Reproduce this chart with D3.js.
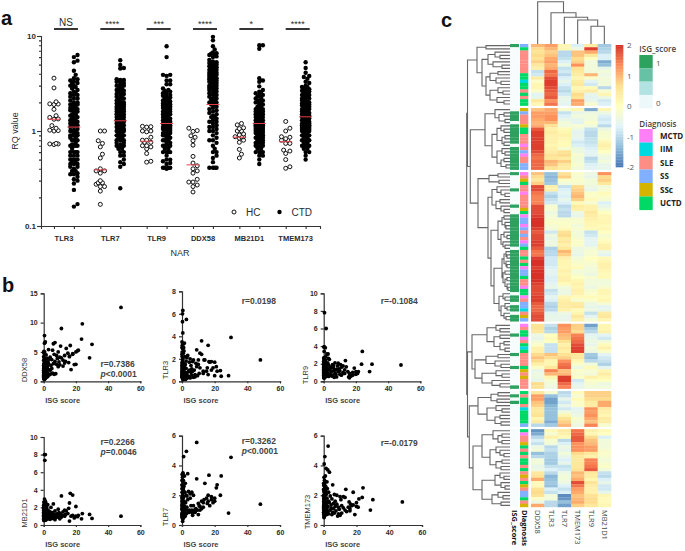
<!DOCTYPE html>
<html>
<head>
<meta charset="utf-8">
<script src="https://cdn.jsdelivr.net/npm/d3@7"></script>
<style>
  body { margin: 0; background: #fff; }
  text { font-family: "Liberation Sans", Arial, sans-serif; fill: #2b2b2b; }
  .heat text { font-family: "Open Sans", sans-serif; }
</style>
</head>
<body>
<div id="chart"></div>
<script>
// Panel a
var genes = ["TLR3", "TLR7", "TLR9", "DDX58", "MB21D1", "TMEM173"];
var sigLabels = ["NS", "****", "***", "****", "*", "****"];
var medianHC = [1.33, 0.39, 0.78, 0.44, 0.86, 0.77];
var medianCTD = [1.1, 1.28, 1.2, 1.9, 1.2, 1.41];

var hcTLR3 = [3.6, 2.84, 2.03, 1.92, 1.9, 1.93, 1.69, 1.45, 1.39, 1.34, 1.33, 1.14, 1.07, 1.01, 1.0, 1.02, 0.74, 0.73, 0.72, 0.73];
var hcTLR7 = [1.0, 1.0, 0.79, 0.74, 0.68, 0.57, 0.52, 0.4, 0.38, 0.38, 0.36, 0.3, 0.285, 0.285, 0.275, 0.26, 0.26, 0.233, 0.169];
var hcTLR9 = [1.11, 1.12, 1.1, 1.0, 1.0, 0.98, 0.86, 0.8, 0.8, 0.76, 0.76, 0.7, 0.7, 0.68, 0.65, 0.58, 0.48, 0.47];
var hcDDX58 = [1.07, 1.01, 0.99, 0.89, 0.86, 0.79, 0.71, 0.54, 0.46, 0.43, 0.4, 0.38, 0.36, 0.31, 0.29, 0.29, 0.27, 0.26, 0.228];
var hcMB21D1 = [1.2, 1.16, 1.08, 1.06, 1.0, 1.0, 0.93, 0.91, 0.87, 0.87, 0.87, 0.84, 0.8, 0.76, 0.64, 0.57, 0.52];
var hcTMEM173 = [1.26, 1.07, 1.0, 0.87, 0.86, 0.83, 0.8, 0.8, 0.74, 0.74, 0.63, 0.615, 0.58, 0.5, 0.42, 0.405];

// CTD patients, same order in every array. Used by panels a and b.
var isgScore = [48, 30, 28.5, 24, 23.5, 21.5, 21, 20, 20, 19,
  18, 18, 17, 16.5, 16, 16, 15.5, 15, 14, 13.5,
  13, 13, 12, 12, 11, 11, 10.5, 10, 10, 9.5,
  9, 9, 8.5, 8, 8, 7.5, 7, 7, 6.5, 6.5,
  6, 6, 5.5, 5.5, 5, 5, 4.5, 4.5, 4, 4,
  3.5, 3.5, 3, 3, 3, 2.7, 2.5, 2.5, 2.5, 2.2,
  2, 2, 2, 1.8, 1.7, 1.5, 1.5, 1.5, 1.3, 1.2,
  1.2, 1.1, 1, 1, 1, 1, .9, .9, .8, .8,
  .7, .7, .7, .6, .6, .6, .5, .5, .5, .5,
  .5, .4, .4, .4, .3, .3, .3, .3, .3, .2,
  .2, .2, .2, .2, .1, .1, .1, .1, .1, .1,
  0, 0, 0, 0, 0, 0, 0, 0, 0, 0];
var ctdDDX58 = [12.6, 6.3, 4.0, 9.8, 7.2, 5.3, 5.2, 2.9, 5.0, 2.85,
  4.7, 4.6, 2.0, 6.1, 4.3, 4.2, 3.2, 4.8, 5.6, 3.4,
  3.1, 4.4, 3.6, 2.6, 9.0, 4.0, 6.0, 2.8, 4.1, 3.3,
  5.0, 2.5, 3.9, 2.9, 4.4, 1.3, 6.6, 3.4, 1.2, 4.6,
  6.4, 3.0, 1.4, 5.3, 2.2, 3.7, 1.25, 2.7, 4.1, 1.9,
  3.8, 1.1, 5.4, 3.0, 2.0, 3.3, 1.4, 2.6, .8, 3.9,
  2.4, 1.0, 3.1, 1.7, .7, 4.5, 2.3, .95, 3.5, 1.6,
  .6, 2.1, 6.7, 1.05, .52, 2.8, 1.5, 3.2, .47, 1.8,
  2.4, .6, 3.7, .41, 2.0, 5.0, 7.8, 6.5, .41, 1.15,
  2.9, .85, 1.35, 4.0, .41, 1.25, 2.5, 3.5, .75, .41,
  1.65, 2.2, 4.8, .9, 1.1, 3.0, 1.55, .65, 2.3, 5.1,
  .55, 1.75, 2.7, 1.0, 3.6, 1.45, .8, 2.15, 4.2, 1.9];
var ctdTLR3 = [1.9, 3.9, .5, .45, .95, .9, 1.3, .5, 1.7, 1.2,
  1.75, 1.0, 1.7, 1.75, .6, 3.2, 1.2, .9, 1.9, 1.9,
  .7, .9, 3.6, 2.4, 2.5, 1.2, .7, 1.9, 1.5, .5,
  2.8, 1.3, 1.6, .6, .4, 1.0, 1.9, .35, 1.75, .9,
  1.1, .55, 1.4, .8, 2.0, .3, 1.0, 1.7, .45, .9,
  2.3, .35, 2.1, .7, .28, 5.5, 1.8, .55, 1.15, .17,
  1.5, .45, .8, 2.2, .38, 1.25, .42, 3.4, .65, 2.7,
  .5, 1.05, .9, 3.0, .33, 1.6, .24, 1.35, .7, 2.5,
  .38, 1.1, .85, .6, 2.0, 3.3, 4.3, 6.3, .16, .75,
  1.7, .48, 2.9, 1.2, 6.0, .5, 1.9, .8, 5.3, .31,
  1.0, 3.2, .6, 1.4, .36, 2.2, 1.15, 2.6, .72, 1.3,
  .42, 3.5, .95, 1.65, .46, 2.4, .55, 1.45, .85, 3.0];
var ctdTLR7 = [1.4, 4.55, .8, 3.3, 2.0, 2.7, 2.5, 1.8, 1.6, 1.5,
  1.7, 1.9, 1.3, 3.35, 2.0, 1.6, 1.45, 1.8, 2.8, 1.7,
  1.5, 1.2, 1.6, 1.1, 1.25, 1.0, 1.3, .7, 1.45, 1.0,
  5.55, 3.1, 1.1, .85, .9, 1.0, 1.3, 2.0, .8, .65,
  2.2, 1.0, .95, 1.3, 1.8, 2.1, .85, 1.0, .9, 2.25,
  3.45, 1.7, 1.2, 1.95, .8, 4.95, 2.0, 1.05, .75, 1.5,
  2.8, 1.15, .6, 2.2, .9, 3.3, 1.25, .7, 1.6, 2.6,
  .55, 1.1, 4.6, 1.9, .5, 1.35, .85, 2.3, .65, 3.0,
  1.4, .75, 2.45, .45, 1.8, 3.5, 2.9, 2.4, .42, 1.0,
  3.45, .25, 2.1, 1.55, .7, 1.25, 1.95, 3.2, .95, .47,
  1.45, .68, 2.65, 1.15, .6, 2.2, 1.75, 1.05, 3.4, 1.3,
  .8, 2.45, .55, 1.6, 1.1, 2.7, .72, 1.85, 3.0, 1.35];
var ctdTLR9 = [1.85, 1.95, 1.1, 3.4, 1.95, 1.1, .9, .8, 1.1, 1.5,
  1.0, .7, .6, .7, .4, .9, .5, 1.1, 1.65, 2.35,
  1.3, .9, 1.75, 1.0, 1.6, .7, 1.9, .8, 1.2, 1.4,
  2.05, 1.1, 1.75, .5, 1.35, .8, 2.1, .95, 1.25, .45,
  1.8, 1.55, .7, 1.9, 1.15, .6, 1.65, 1.05, 1.45, .75,
  2.5, 1.3, .55, 1.85, 2.6, 3.1, .95, 1.4, 2.1, .7,
  1.5, 3.1, 1.2, .65, 1.75, 6.0, 1.0, 1.9, 2.8, .85,
  1.35, 2.4, 3.8, 1.1, .6, 1.55, .48, 2.2, 1.7, 1.25,
  .75, 2.3, 1.05, .9, 2.7, 1.3, 7.8, 3.9, .46, .41,
  1.65, 1.15, 2.0, .65, 3.4, .8, 2.5, 1.45, .41, 1.0,
  2.15, 1.25, .41, 1.85, .7, 1.1, .41, 1.6, 3.9, 1.95,
  1.05, .85, 1.5, 2.65, 1.2, .6, 2.25, 1.35, .95, 1.75];
var ctdMB21D1 = [1.0, .75, 1.2, 1.3, .7, 1.1, .95, 2.1, 1.0, .8,
  3.4, 1.1, 1.0, 3.6, .45, 2.5, 1.9, 1.3, 1.6, 1.2,
  1.7, 1.0, 1.5, 1.1, 3.3, .9, 1.3, 1.2, .7, 1.4,
  1.0, 1.8, .9, 1.15, 1.25, .85, 1.6, .6, 1.2, 1.05,
  2.4, .95, 1.4, .75, 1.3, 1.1, 2.0, .8, .65, 1.5,
  1.05, .85, 1.5, 1.2, .7, 1.7, 1.05, 2.3, .9, 1.35,
  1.6, .75, 1.1, 2.0, .95, 1.25, 1.7, .6, 2.5, 1.15,
  .8, .55, 8.0, 1.0, 1.3, 2.7, .9, 1.45, .75, 2.1,
  7.35, 1.15, 1.55, .65, 1.25, 1.9, 2.95, 8.0, .95, 1.6,
  2.4, .85, 2.2, .6, 1.1, .5, 1.7, 1.2, 1.4, 1.0,
  .7, 2.05, 1.35, .55, 2.6, .85, 1.5, .8, 1.1, 1.8,
  .6, 1.05, 2.25, .95, 1.3, 1.65, .72, 1.45, 1.15, 2.0];
var ctdTMEM173 = [1.55, 1.7, 1.0, 2.5, 1.85, 1.75, 1.2, 1.25, 1.5, .7,
  2.2, 1.35, 1.3, 1.4, 1.1, .95, 1.55, 1.2, .9, 2.4,
  1.85, 1.0, 1.9, 1.15, .8, 1.3, 1.7, .65, 1.9, 1.05,
  .75, 1.2, .6, 1.4, 2.0, .95, 1.6, 1.25, .8, 2.05,
  1.45, 1.1, 2.7, .85, .7, 1.75, 1.15, 1.35, 1.95, 1.0,
  3.55, 1.5, 2.2, .75, 1.6, 5.3, 3.7, 1.25, .9, 2.45,
  1.8, 1.1, 2.9, .7, 1.45, 3.8, 1.05, 2.05, 1.3, 2.6,
  .85, 2.3, 2.9, 1.2, 3.3, 1.55, 1.0, 2.1, 1.65, 1.15,
  4.6, .65, 2.5, 1.35, .95, 1.9, 3.0, 1.7, .8, 1.1,
  2.75, .6, 1.4, 2.2, 4.1, .55, 1.3, 2.35, .9, .5,
  3.2, 1.05, 1.85, .75, 2.65, 1.2, 1.5, .7, 2.3, 1.6,
  2.4, 1.0, 1.75, .85, 2.0, 1.25, 1.35, 1.9, 2.8, 1.1];

// Panel b annotations
var corrLabels = ["r=0.7386", "r=0.0198", "r=-0.1084", "r=0.2266", "r=0.3262", "r=-0.0179"];
var pLabels = ["<0.0001", "", "", "=0.0046", "<0.0001", ""];

// Panel c, one array per row cluster, columns in heatGenes order
var heatGenes = ["DDX58", "TLR3", "TLR7", "TMEM173", "TLR9", "MB21D1"];
var heatBlock1 = [[1, 1.2, .2, -.7, .4, -1.2], [.7, 1, .2, -.4, 1.9, -1.1], [.6, .8, -1, .9, 1.1, -1], [.7, .9, -1, .9, .5, -.7],
  [.6, 1.1, -.9, .7, 0, -.7], [.8, 1.2, -.7, .8, -.3, -1.5], [.5, 1, -.4, 1.3, -.3, -1.3], [.3, 1.1, -.9, .6, -.3, -.5],
  [-.9, 1.6, -.8, .5, -.3, -.3], [-.8, 1.5, -1, .4, 1, -.4], [.4, 1.8, -.7, .2, -.1, -.3], [-.1, 1.9, -.5, .4, -.6, -.3],
  [.2, 1.9, -.7, .5, -.8, -.3], [.2, 1.8, -.9, .2, .1, -1], [-.1, 1.7, -1, .3, .4, -.2], [-.6, 1.6, -.8, .7, -.5, .2],
  [-.5, 1.7, -.5, .6, -.6, -.4], [.5, 1.3, -.5, 1.2, -.5, -.8], [.2, 1.5, -.6, 1.1, -.2, -.7]];
var heatBlock2 = [[.9, 1.1, -.2, .2, -1.5, .2], [1.2, 1.2, -.9, -.5, -.4, -.4], [1.2, 1.3, -.7, -.3, -.3, -.7], [1.1, 1.3, -.5, -.5, -.3, -.8],
  [1, 1, -.3, -.6, -.1, -.7], [1.1, .6, -.3, -.2, -.3, -1], [1.7, .3, .1, -.4, -.9, -.4], [1.9, .4, .2, -.6, -1, -.2],
  [1.9, .3, .3, -.5, -1, -.2], [1.9, .3, .2, -.6, -.9, -.1], [1.9, .3, .1, -.8, -.9, .2], [1.9, .2, .1, -.7, -.8, .3],
  [1.9, .3, -.2, -.4, -.7, .2], [1.8, .4, .6, -.4, -.6, 0], [1.6, .6, .7, -.2, -.6, -.3], [1.5, .5, .4, -.3, -1, -.4],
  [1.6, 1, .8, -.3, -.9, -.3], [1.6, .9, .5, -.2, -.7, -.5], [1.6, .6, .4, -.3, -.6, -.5]];
var heatBlock3 = [[.9, -1.3, .6, -.1, -.4, 1.3], [.7, -1.4, .8, -.2, -.5, .7], [.5, -1.3, -.1, -.1, -.3, .8], [.8, -1.2, -.3, -.2, -.3, .5],
  [1.8, .3, -.9, .7, -.4, -.3], [1.8, .3, -.7, .8, -.5, -.2], [1.5, -.9, -.6, .9, -.1, .1], [1.4, -1.1, -.7, 1, -.1, -.1],
  [1.4, -.9, -.5, .8, .1, -.2], [1.4, -.8, -.7, .1, -.2, -.7], [1.8, -.2, -1, .4, .3, -.5], [1.8, -.2, -.9, .3, .3, -.3],
  [1.8, -.4, -1, -.4, .5, 0], [1.9, -.3, -1, -.5, .4, .2], [2, -.2, -.2, -.2, .3, .2], [2, -.1, -.1, -.2, .2, .2],
  [2, -.2, -.1, -.3, .2, .1], [1.9, -.3, .1, -.2, .1, .2], [1.7, -.8, .6, -.3, -.9, 0], [1.8, -.4, .7, -.3, -.8, -.2],
  [1.8, -.5, .4, -.2, -.6, -.1], [1.9, -.4, .5, -.1, -.6, .1], [1.9, -.4, .3, -.1, -.6, .3], [1.7, -1.1, .5, -.4, -.3, .3],
  [1.5, -1, 1, -.4, -.2, -.4], [1.5, -1, .8, -.5, -.2, -.6], [1.9, -.8, .3, -.3, 0, .1], [2, -.8, .2, -.2, -.1, .2],
  [2, -.8, .2, -.1, -.2, .3], [1.9, -.7, .2, .1, -.3, .3], [2, -.6, .3, -.3, -.3, .2], [2, -.6, .2, -.2, -.4, .1],
  [2, -.7, .3, 0, -.2, .1], [2, -.7, .3, .2, -.3, -.3], [1.9, -.6, .1, .3, -.3, -.3], [1.8, -.5, -.3, .2, -.4, -.2],
  [1.8, -.9, -.4, .3, -.2, .2], [1.8, -.8, -.4, .3, -.1, .2], [1.9, -.6, .2, .1, .1, .1], [1.9, -.7, .3, -.2, -.1, .2],
  [1.7, -1, .4, .4, -.4, -.2], [1.6, -1.1, .4, .5, -.5, -.6], [1.6, -1, .3, .1, -.4, -.5], [1.7, -.6, -.4, .2, -.9, .4],
  [1.8, -.5, -.5, .5, -.6, .5], [1.8, -.5, -.5, .3, -.3, .2]];
var heatBlock4 = [[.6, -.9, 1.3, .8, -1.6, .2], [.6, -1.1, 1.2, .8, -1.2, .2], [.5, -1, 1.2, .7, -1, .3], [-.4, 0, 1, 1.4, -.6, -.6],
  [-.5, .1, .9, 1.5, -.5, -.8], [-.3, 0, .6, 1.6, -.4, -.3], [-.1, -.9, .3, 1.8, -.5, .1], [.3, -.9, .5, 1.9, -.3, .3],
  [.3, -.9, .3, 1.9, -.4, -.1], [.7, .9, .6, .5, -1.2, -.6], [.9, .7, .8, .5, -1.3, -.8], [.7, .2, 1.3, .2, -1, -.9],
  [.3, .2, 1.5, -.1, -.3, -1.1], [-.1, .5, 1.6, -.4, .1, -.6], [-.5, 1.4, .9, -.1, -.2, .2], [-.4, 1, 1, -.2, -.3, .4],
  [-.4, .2, 1.9, -.1, .3, .2], [-.5, -.2, 1.9, -.8, -.1, 0], [.7, -.3, 1.6, -.6, -.2, -.4], [.6, -.4, 1.4, -.5, -.3, -.3]];
var heatBlock5 = [[.5, -.2, -1, .1, .8, .8], [1.2, -1.3, -.9, -.2, .8, .8], [1.2, -1.6, -.5, .1, .7, .7], [.9, -1.6, -.8, -.1, .4, 1.1],
  [.8, -1.4, -.5, -.1, .4, 1.1], [.5, -1.3, -.8, -.6, 1.3, .4], [.5, -1.3, -.3, -.5, 1.2, .3], [.6, -1.3, .2, -.4, 1.3, .2],
  [.2, -1.3, .6, -.2, 1.1, .4], [.4, -1.5, .8, -.3, .9, .4], [-1, -1.2, 1, -.4, 1.4, -.2]];
var heatBlock6 = [[-1.7, .1, .4, 1.5, .3, .1], [-1.5, -.2, .3, 1.6, .2, 0], [-1, .3, .1, 1.7, .7, -.7], [-.7, -.2, -1, 1.7, .9, -.3],
  [-.9, -.3, -.7, 1.3, 1, -.3], [-.4, -1, -.4, 1.3, 1.2, -.3], [-.3, -.9, -.5, 1.3, 1.2, -.2], [-1.3, -1.1, -.3, .7, .5, -.1],
  [-1, -1.1, -.5, .5, .3, -.2], [-.3, -1.2, -.7, .5, 1.4, -.3], [-.3, -1.2, -.5, .5, 1.4, -.2], [-.5, -.9, -.9, .5, 1.5, -.1],
  [-.4, -.7, -.8, .6, 1.7, -.3], [.5, -1, -.4, 1, .5, -.9], [.6, -1.4, -.3, .9, .4, -1], [1.1, -1.3, -.3, 1.1, .2, -.7],
  [.1, -1.2, -.4, 1.8, .6, -.5], [.1, -1.3, -.7, 1.5, .4, -.8], [.6, -.7, -.9, 1.2, .3, -.8], [.7, -.9, -.7, 1.1, .3, -.5],
  [.6, -.3, -1.8, .9, .6, .2], [-.1, -.3, -1.7, 1, .7, .1], [-.4, -1, -1.3, 1.1, .7, .1], [1.1, -1, -1.6, .8, .5, .2]];

// Diagnosis of every row, as an index into diagnosisNames
var diagnosisNames = ["MCTD", "IIM", "SLE", "SS", "SSc", "UCTD"];
var diagnosisColors = ["#ff80f6", "#00d9e0", "#fd8d85", "#80b0ff", "#d4b400", "#00d966"];
var diagRows = [3, 5, 2, 2, 2, 2, 2, 2, 2, 5, 5, 1, 5, 5, 2, 5, 2, 5, 5,
  4, 3, 2, 2, 2, 4, 5, 5, 2, 2, 2, 0, 2, 3, 0, 2, 2, 3, 3,
  0, 2, 4, 5, 2, 2, 0, 2, 2, 2, 2, 4, 5, 0, 3, 3, 0, 3, 2, 3, 2, 0, 3, 5, 2, 2, 5, 2, 5, 0, 3, 3, 5, 2, 2, 0, 5, 5, 0, 2, 3, 3, 1, 2, 4, 3,
  0, 2, 5, 5, 0, 2, 5, 1, 5, 2, 2, 2, 2, 5, 4, 2, 4, 2, 2, 2,
  5, 2, 5, 5, 2, 1, 5, 5, 5, 5, 3,
  5, 0, 2, 2, 4, 5, 2, 5, 2, 5, 5, 2, 5, 2, 4, 2, 5, 4, 2, 3, 3, 5, 2, 4];

// ISG_score level of every row, 3 is the darkest green
var isgColors = ["#edf8fb", "#b2e2e2", "#66c2a4", "#2ca25f"];
var isgRows = [3, 0, 0, 0, 0, 0, 0, 0, 0, 0, 0, 0, 0, 0, 0, 0, 0, 0, 0,
  0, 3, 3, 3, 0, 3, 3, 3, 3, 3, 3, 0, 3, 3, 3, 3, 3, 3, 3,
  3, 0, 0, 0, 0, 3, 0, 0, 0, 0, 3, 0, 0, 3, 3, 3, 3, 3, 3, 3, 3, 3, 3, 0, 3, 3, 3, 3, 3, 3, 3, 3, 3, 3, 3, 3, 3, 0, 3, 3, 0, 3, 3, 0, 3, 3,
  0, 0, 0, 3, 0, 0, 0, 0, 0, 3, 0, 0, 0, 3, 0, 0, 0, 0, 0, 3,
  0, 3, 0, 3, 0, 0, 0, 0, 0, 0, 0,
  0, 0, 0, 0, 0, 0, 0, 0, 0, 0, 0, 0, 0, 0, 0, 0, 0, 0, 0, 0, 0, 0, 0, 0];

// Dendrograms: [height, child, child], 0 is a leaf
var treeBlock1 = [33, [24, 0, 0], [28, [22, [15, 0, [10, 0, 0]], [17, 0, [8, 0, 0]]], [24, [20, [12, 0, 0], [14, 0, [9, 0, 0]]], [20, [12, 0, [7, 0, 0]], [13, 0, [6, 0, 0]]]]]];
var treeBlock2 = [25, [15, 0, [11, [6, 0, 0], [5, 0, 0]]], [18, [13, [9, 0, [6, 0, 0]], [8, [5, 0, 0], [6, 0, 0]]], [13, [8, 0, [5, 0, 0]], [9, [6, 0, 0], [4, 0, 0]]]]];
var treeBlock3 = [32, [21, [12, 0, 0], [11, 0, 0]], [22, [18, [13, 0, [9, 0, [5, 0, 0]]], [14, [10, 0, 0], [9, 0, [6, 0, 0]]]],
  [19, [12, [8, [6, 0, 0], [5, 0, [4, 0, 0]]], [9, [6, 0, [3, 0, 0]], [7, 0, [5, 0, 0]]]],
    [16, [8, [6, [4, 0, [3, 0, 0]], [4, 0, [3, 0, 0]]], [7, [5, 0, 0], [5, [3, 0, 0], [3, 0, [2, 0, 0]]]]],
      [11, [7, 0, [5, 0, 0]], [9, [5, 0, [3, 0, 0]], [6, 0, [4, 0, 0]]]]]]]];
var treeBlock4 = [38, [23, [14, 0, [10, 0, 0]], [16, [10, 0, 0], [10, [6, 0, 0], [5, 0, 0]]]],
  [35, [24, [12, 0, 0], [15, 0, [9, 0, 0]]], [28, [14, 0, [8, 0, 0]], [18, 0, [10, 0, 0]]]]];
var treeBlock5 = [32, [19, [12, 0, 0], [13, 0, 0]], [23, [14, 0, [8, 0, 0]], [15, [10, 0, 0], [9, 0, 0]]]];
var treeBlock6 = [37, [28, [17, 0, [12, [8, 0, 0], [8, 0, 0]]], [20, [14, 0, [10, 0, [6, 0, 0]]], [14, [8, 0, 0], [9, 0, 0]]]],
  [28, [15, [10, 0, [6, 0, 0]], [9, 0, [5, 0, 0]]], [18, [12, 0, [7, 0, 0]], [9, 0, 0]]]];
var rowTree = [43.3, [42.5, treeBlock1, [39.7, treeBlock2, treeBlock3]], [42.5, treeBlock4, [40.7, treeBlock5, treeBlock6]]];
var colTree = [42.3, 0, [31.3, 0, [26.7, 0, [24, 0, [17.7, 0, 0]]]]];

var main = function () {
    "use strict";

    var svg = d3.select("#chart").append("svg")
        .attr("width", 685)
        .attr("height", 551)
        .style("display", "block");

    drawPanelA(svg);
    drawPanelB(svg);
    drawPanelC(svg);

    // Panel letters
    [["a", 1, 25], ["b", 2, 292], ["c", 441, 27]].forEach(function (d) {
        svg.append("text").attr("x", d[1]).attr("y", d[2])
            .attr("font-size", 20).attr("font-weight", "bold")
            .style("fill", "#111").text(d[0]);
    });
};

// Beeswarm offsets. Each point goes to the nearest free slot, or the least crowded one.
function swarm(values, y, step, minDist, maxK) {
    var placed = [];
    values.slice().sort(d3.ascending).forEach(function (v) {
        var py = y(v), best = null, bestDist = -1;
        for (var i = 0; i <= maxK * 2; i++) {
            var k = i % 2 ? (i + 1) / 2 : -i / 2;
            var off = k * step;
            var nearest = d3.min(placed, function (p) { return Math.hypot(p.off - off, p.py - py); });
            if (nearest === undefined) nearest = 1e9;
            if (nearest >= minDist) { best = off; bestDist = nearest; break; }
            if (nearest > bestDist) { best = off; bestDist = nearest; }
        }
        placed.push({value: v, off: best, py: py});
    });
    return placed;
}

function drawPanelA(svg) {
    var y = d3.scaleLog().domain([0.1, 10]).range([226, 36]);
    var x = d3.scaleLinear().domain([-0.28, 5.74]).range([41, 320]);
    var ctdShift = 0.43;

    var minor = [];
    [0.1, 1].forEach(function (dec) {
        for (var i = 1; i < 10; i++) minor.push(+(dec * i).toFixed(1));
    });
    minor.push(10);
    var isDecade = function (d) { return d === 0.1 || d === 1 || d === 10; };

    // Y axis with long ticks on the decades only
    var yAxis = svg.append("g").attr("transform", "translate(41,0)")
        .call(d3.axisLeft(y).tickValues(minor).tickSize(2)
            .tickFormat(function (d) { return isDecade(d) ? String(d) : ""; }));
    yAxis.selectAll(".tick").filter(isDecade).select("line").attr("x2", -4);
    yAxis.selectAll("text").attr("x", -5).attr("font-size", 8).attr("font-weight", "bold")
        .attr("font-family", "Liberation Sans");

    var ticks = [];
    genes.forEach(function (g, i) { ticks.push(i, i + ctdShift); });
    var xAxis = svg.append("g").attr("transform", "translate(0,226)")
        .call(d3.axisBottom(x).tickValues(ticks).tickSize(3).tickFormat(""));
    [yAxis, xAxis].forEach(function (a) {
        a.selectAll(".domain, line").attr("stroke", "#333").attr("stroke-width", 1.1);
    });

    var hcValues = [hcTLR3, hcTLR7, hcTLR9, hcDDX58, hcMB21D1, hcTMEM173];
    var ctdValues = [ctdTLR3, ctdTLR7, ctdTLR9, ctdDDX58, ctdMB21D1, ctdTMEM173];

    genes.forEach(function (gene, i) {
        var cxHC = x(i), cxCTD = x(i + ctdShift);

        svg.append("g").selectAll("circle")
            .data(swarm(hcValues[i], y, 2.1, 4, 2))
            .enter().append("circle")
            .attr("cx", function (d) { return cxHC + d.off; })
            .attr("cy", function (d) { return y(d.value); })
            .attr("r", 2)
            .attr("fill", "#fff")
            .attr("stroke", "#111")
            .attr("stroke-width", 1);

        svg.append("g").selectAll("circle")
            .data(swarm(ctdValues[i].filter(function (v) { return v <= 10; }), y, 1.8, 3.4, 2))
            .enter().append("circle")
            .attr("cx", function (d) { return cxCTD + d.off; })
            .attr("cy", function (d) { return y(d.value); })
            .attr("r", 2.2)
            .attr("fill", "#000");

        // Medians
        [[cxHC, medianHC[i]], [cxCTD, medianCTD[i]]].forEach(function (m) {
            svg.append("line")
                .attr("x1", m[0] - 6.5).attr("x2", m[0] + 6.5)
                .attr("y1", y(m[1])).attr("y2", y(m[1]))
                .attr("stroke", "#e8404a").attr("stroke-width", 1);
        });

        // Significance bar, stars and gene name
        svg.append("line")
            .attr("x1", cxHC).attr("x2", cxHC + 24)
            .attr("y1", 29).attr("y2", 29)
            .attr("stroke", "#111").attr("stroke-width", 1.7);
        svg.append("text")
            .attr("x", cxHC + 12).attr("y", sigLabels[i] === "NS" ? 26 : 27)
            .attr("text-anchor", "middle")
            .attr("font-size", sigLabels[i] === "NS" ? 10 : 9)
            .text(sigLabels[i]);
        svg.append("text")
            .attr("x", (cxHC + cxCTD) / 2).attr("y", 241)
            .attr("text-anchor", "middle")
            .attr("font-size", 7.5).attr("font-weight", "bold")
            .text(gene);
    });

    svg.append("text").attr("transform", "translate(18,131) rotate(-90)")
        .attr("text-anchor", "middle").attr("font-size", 9).text("RQ value");
    svg.append("text").attr("x", 180).attr("y", 256)
        .attr("text-anchor", "middle").attr("font-size", 9).text("NAR");

    // Legend
    svg.append("circle").attr("cx", 234).attr("cy", 212).attr("r", 2)
        .attr("fill", "#fff").attr("stroke", "#111");
    svg.append("text").attr("x", 246).attr("y", 216).attr("font-size", 10).text("HC");
    svg.append("circle").attr("cx", 279.5).attr("cy", 212).attr("r", 2.2).attr("fill", "#000");
    svg.append("text").attr("x", 291.5).attr("y", 216).attr("font-size", 10).text("CTD");
}

function drawPanelB(svg) {
    // Layout of the six small plots
    var plots = [
        {name: "DDX58", values: ctdDDX58, max: 15, ticks: [0, 5, 10, 15], x0: 43.7, x1: 140.3, y0: 381.3, y1: 293.3, ly: 370, ty: 367},
        {name: "TLR3", values: ctdTLR3, max: 8, ticks: [0, 2, 4, 6, 8], x0: 182, x1: 280, y0: 381.3, y1: 291.3, ly: 370, ty: 304},
        {name: "TLR9", values: ctdTLR9, max: 10, ticks: [0, 2, 4, 6, 8, 10], x0: 323.7, x1: 420.3, y0: 381.3, y1: 293.3, ly: 375, ty: 304},
        {name: "MB21D1", values: ctdMB21D1, max: 10, ticks: [0, 2, 4, 6, 8, 10], x0: 43.7, x1: 140.3, y0: 525, y1: 437, ly: 513, ty: 445},
        {name: "TLR7", values: ctdTLR7, max: 6, ticks: [0, 2, 4, 6], x0: 182, x1: 280, y0: 525, y1: 435.7, ly: 517, ty: 444},
        {name: "TMEM173", values: ctdTMEM173, max: 6, ticks: [0, 2, 4, 6], x0: 323.7, x1: 422, y0: 525, y1: 435.7, ly: 512, ty: 446}
    ];
    var labelX = [100.5, 241.7, 380.7, 100.5, 241.7, 380.7];
    var nameX = [27, 168, 307.5, 27, 168, 310];

    plots.forEach(function (p, i) {
        var x = d3.scaleLinear().domain([0, 60]).range([p.x0, p.x1]);
        var y = d3.scaleLinear().domain([0, p.max]).range([p.y0, p.y1]);
        var g = svg.append("g");

        var xAx = g.append("g").attr("transform", "translate(0," + p.y0 + ")")
            .call(d3.axisBottom(x).tickValues([0, 20, 40, 60]).tickSize(2));
        var yAx = g.append("g").attr("transform", "translate(" + p.x0 + ",0)")
            .call(d3.axisLeft(y).tickValues(p.ticks).tickSize(3).tickFormat(d3.format("d")));
        [xAx, yAx].forEach(function (a) {
            a.selectAll(".domain, line").attr("stroke", "#333").attr("stroke-width", 1.2);
            a.selectAll("text").attr("font-size", 7).attr("font-weight", "bold")
                .attr("font-family", "Liberation Sans");
        });

        g.append("g").selectAll("circle")
            .data(isgScore)
            .enter().append("circle")
            .attr("cx", function (d) { return x(d); })
            .attr("cy", function (d, j) { return y(p.values[j]); })
            .attr("r", 1.9)
            .attr("fill", "#000");

        g.append("text").attr("x", (p.x0 + 19)).attr("y", p.y0 + 21.5)
            .attr("text-anchor", "middle").attr("font-size", 7.5).attr("font-weight", "bold")
            .style("fill", "#444").text("ISG score");
        g.append("text").attr("transform", "translate(" + nameX[i] + "," + p.ly + ") rotate(-90)")
            .attr("text-anchor", "middle").attr("font-size", 7.5).style("fill", "#333").text(p.name);

        g.append("text").attr("x", labelX[i]).attr("y", p.ty)
            .attr("font-size", 8.5).attr("font-weight", "bold").style("fill", "#444")
            .text(corrLabels[i]);
        if (pLabels[i]) {
            var t = g.append("text").attr("x", labelX[i]).attr("y", p.ty + 10)
                .attr("font-size", 8.5).attr("font-weight", "bold").style("fill", "#444");
            t.append("tspan").attr("font-style", "italic").text("p");
            t.append("tspan").text(pLabels[i]);
        }
    });
}

function drawPanelC(svg) {
    var g = svg.append("g").attr("class", "heat");
    var blocks = [heatBlock1, heatBlock2, heatBlock3, heatBlock4, heatBlock5, heatBlock6];
    var gap = 2.4;

    var rows = [];
    blocks.forEach(function (b, bi) {
        b.forEach(function (r) { rows.push({values: r, block: bi}); });
    });

    var rowScale = d3.scaleBand().domain(d3.range(rows.length)).range([44, 507 - gap * (blocks.length - 1)]);
    var colScale = d3.scaleBand().domain(heatGenes).range([531, 611]);
    var rowY = function (i) { return rowScale(i) + gap * rows[i].block; };

    // pheatmap style colours
    var color = d3.scaleLinear()
        .domain([-2, -1.33, -0.67, 0, 0.67, 1.33, 2])
        .range(["#4575b4", "#91bfdb", "#e0f3f8", "#ffffbf", "#fee090", "#fc8d59", "#d73027"]);

    rows.forEach(function (row, i) {
        g.append("g").selectAll("rect")
            .data(row.values)
            .enter().append("rect")
            .attr("x", function (d, j) { return colScale(heatGenes[j]); })
            .attr("y", rowY(i))
            .attr("width", colScale.bandwidth() + 0.3)
            .attr("height", rowScale.bandwidth() + 0.2)
            .attr("fill", function (d) { return color(d); });
        g.append("rect").attr("x", 510).attr("y", rowY(i)).attr("width", 9)
            .attr("height", rowScale.bandwidth() + 0.2).attr("fill", isgRows[i] ? isgColors[isgRows[i]] : "#f6fcfc");
        g.append("rect").attr("x", 520).attr("y", rowY(i)).attr("width", 8.3)
            .attr("height", rowScale.bandwidth() + 0.2).attr("fill", diagnosisColors[diagRows[i]]);
    });

    // Row dendrogram, leaves follow the heatmap rows
    var rootR = d3.hierarchy(rowTree, function (d) { return Array.isArray(d) ? d.slice(1) : null; });
    var hx = d3.scaleLinear().domain([0, 43.3]).range([510, 466.7]);
    var leafR = 0;
    rootR.eachAfter(function (n) {
        n.h = Array.isArray(n.data) ? n.data[0] : 0;
        n.pos = n.children ? (n.children[0].pos + n.children[1].pos) / 2
            : rowY(leafR++) + rowScale.bandwidth() / 2;
    });
    var treePath = d3.path();
    rootR.each(function (n) {
        if (!n.children) return;
        var a = n.children[0], b = n.children[1];
        treePath.moveTo(hx(a.h), a.pos);
        treePath.lineTo(hx(n.h), a.pos);
        treePath.lineTo(hx(n.h), b.pos);
        treePath.lineTo(hx(b.h), b.pos);
    });
    g.append("path").attr("d", treePath.toString())
        .attr("fill", "none").attr("stroke", "#666").attr("stroke-width", 1.1);

    // Column dendrogram
    var rootC = d3.hierarchy(colTree, function (d) { return Array.isArray(d) ? d.slice(1) : null; });
    var vy = d3.scaleLinear().domain([0, 42.3]).range([44, 1.7]);
    var leafC = 0;
    rootC.eachAfter(function (n) {
        n.h = Array.isArray(n.data) ? n.data[0] : 0;
        n.pos = n.children ? (n.children[0].pos + n.children[1].pos) / 2
            : colScale(heatGenes[leafC++]) + colScale.bandwidth() / 2;
    });
    var colPath = d3.path();
    rootC.each(function (n) {
        if (!n.children) return;
        var a = n.children[0], b = n.children[1];
        colPath.moveTo(a.pos, vy(a.h));
        colPath.lineTo(a.pos, vy(n.h));
        colPath.lineTo(b.pos, vy(n.h));
        colPath.lineTo(b.pos, vy(b.h));
    });
    g.append("path").attr("d", colPath.toString())
        .attr("fill", "none").attr("stroke", "#666").attr("stroke-width", 1.1);

    // Column labels, read top to bottom
    var rotLabel = function (cx, text, bold) {
        g.append("text").attr("transform", "translate(" + (cx - 2.5) + ",510) rotate(90)")
            .attr("font-size", 7.5)
            .attr("font-weight", bold ? "bold" : "normal")
            .style("fill", bold ? "#111" : "#444")
            .text(text);
    };
    rotLabel(514.5, "ISG_score", true);
    rotLabel(524, "Diagnosis", true);
    heatGenes.forEach(function (name) {
        rotLabel(colScale(name) + colScale.bandwidth() / 2, name, false);
    });

    // Colour bar
    var barScale = d3.scaleLinear().domain([2, -2]).range([45, 167]);
    var bar = d3.range(-2, 2, 0.05);
    g.append("g").selectAll("rect")
        .data(bar)
        .enter().append("rect")
        .attr("x", 615.7)
        .attr("y", function (d) { return barScale(d + 0.05); })
        .attr("width", 7.6)
        .attr("height", barScale(0) - barScale(0.05) + 0.3)
        .attr("fill", function (d) { return color(d + 0.025); });
    [2, 1, 0, -1, -2].forEach(function (v) {
        g.append("text").attr("x", 627).attr("y", barScale(v) + 3)
            .attr("font-size", 8).style("fill", "#555").text(v);
    });

    // ISG_score legend
    g.append("text").attr("x", 639.3).attr("y", 52).attr("font-size", 8).attr("font-weight", 600)
        .style("fill", "#444").text("ISG_score");
    isgColors.slice().reverse().forEach(function (c, i) {
        g.append("rect").attr("x", 639.3).attr("y", 55 + i * 13.3)
            .attr("width", 13.4).attr("height", 13.4).attr("fill", c);
    });
    g.append("text").attr("x", 656).attr("y", 66).attr("font-size", 8).style("fill", "#555").text("1");
    g.append("text").attr("x", 656).attr("y", 106).attr("font-size", 8).style("fill", "#555").text("0");

    // Diagnosis legend
    g.append("text").attr("x", 639.3).attr("y", 127).attr("font-size", 8).attr("font-weight", 600)
        .style("fill", "#444").text("Diagnosis");
    diagnosisNames.forEach(function (name, i) {
        g.append("rect").attr("x", 639.3).attr("y", 129 + i * 13.5)
            .attr("width", 13.4).attr("height", 13.6).attr("fill", diagnosisColors[i]);
        g.append("text").attr("x", 660).attr("y", 138.6 + i * 13.5)
            .attr("font-size", 8).attr("font-weight", "bold").style("fill", "#222").text(name);
    });
}

main();
</script>
</body>
</html>
